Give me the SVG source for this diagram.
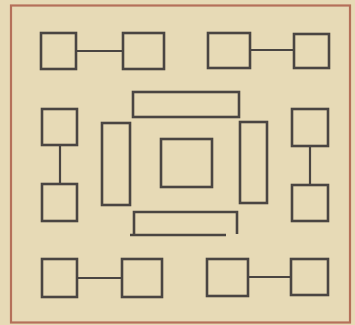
<svg xmlns="http://www.w3.org/2000/svg" width="355" height="325" viewBox="0 0 355 325">
<style>
.n{fill:none;stroke:#4a4542;stroke-width:2.6}
.c{fill:none;stroke:#4a4542;stroke-width:2.2}
</style>
<rect x="0" y="0" width="355" height="325" fill="#e7dab6"/>
<rect id="frame" x="11" y="5.5" width="339" height="317" fill="none" stroke="#b5705a" stroke-width="2.2"/>
<g id="connectors">
<path class="c" d="M76,51H123"/>
<path class="c" d="M250,50H294"/>
<path class="c" d="M60,145V184"/>
<path class="c" d="M310,146V185"/>
<path class="c" d="M77,278H122"/>
<path class="c" d="M248,277H291"/>
</g>
<g id="n1"><rect class="n" x="41" y="33" width="35" height="36"/></g>
<g id="n2"><rect class="n" x="123" y="33" width="41" height="36"/></g>
<g id="n3"><rect class="n" x="208" y="33" width="42" height="35"/></g>
<g id="n4"><rect class="n" x="294" y="34" width="35" height="34"/></g>
<g id="n5"><rect class="n" x="42" y="109" width="35" height="36"/></g>
<g id="n6"><rect class="n" x="42" y="184" width="35" height="37"/></g>
<g id="n7"><rect class="n" x="292" y="109" width="36" height="37"/></g>
<g id="n8"><rect class="n" x="292" y="185" width="36" height="36"/></g>
<g id="n9"><rect class="n" x="42" y="259" width="35" height="38"/></g>
<g id="n10"><rect class="n" x="122" y="259" width="40" height="38"/></g>
<g id="n11"><rect class="n" x="207" y="259" width="41" height="37"/></g>
<g id="n12"><rect class="n" x="291" y="259" width="37" height="36"/></g>
<g id="top-bar"><rect class="n" x="133" y="92" width="106" height="25"/></g>
<g id="left-bar"><rect class="n" x="102" y="123" width="28" height="82"/></g>
<g id="center"><rect class="n" x="161" y="139" width="51" height="48"/></g>
<g id="right-bar"><rect class="n" x="240" y="122" width="27" height="81"/></g>
<g id="bottom-bar"><path class="n" d="M226,235H130M134,235V212H237V234"/></g>
</svg>
